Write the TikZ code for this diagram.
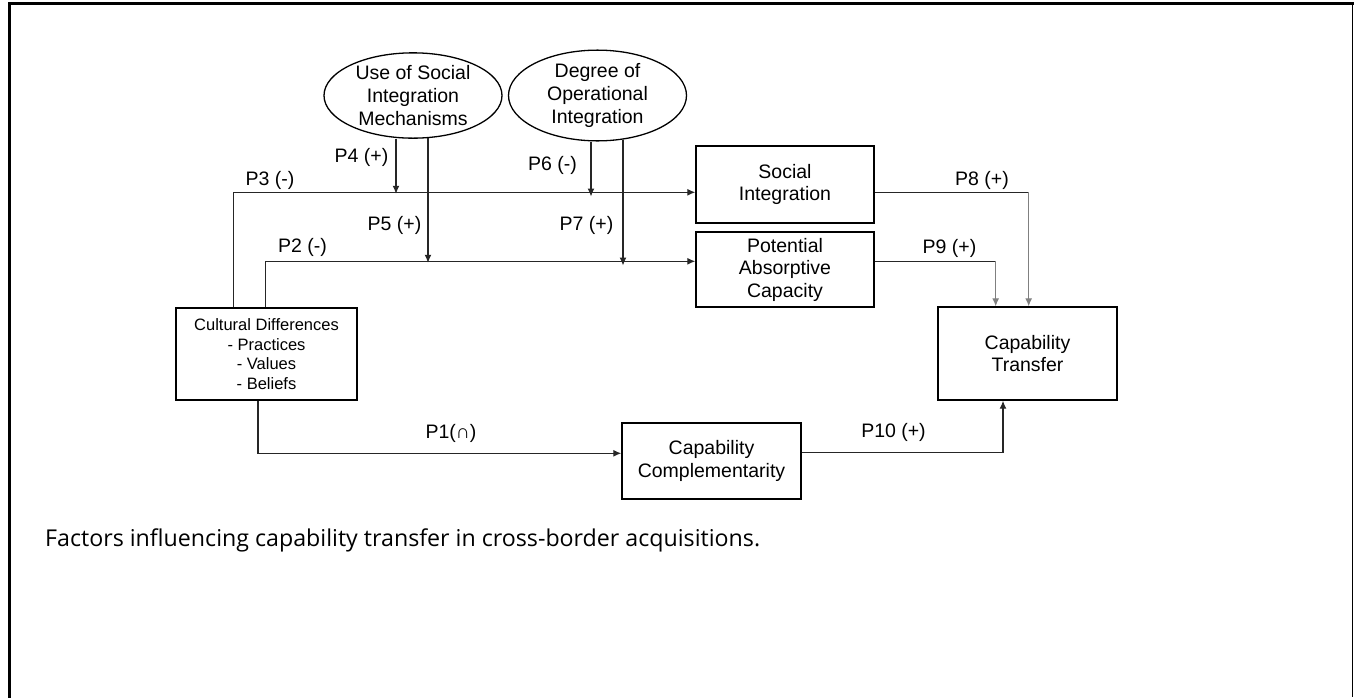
\documentclass[tikz,border=0pt]{standalone}
\usepackage{fontspec}
\setmainfont{Liberation Sans}
\newfontfamily\capfont{Open Sans}
\usetikzlibrary{arrows.meta,shapes.geometric,calc}
\newcommand\setfs[2]{\fontsize{#1}{#2}\selectfont}
\tikzset{
  box/.style={draw, rectangle, line width=1.4pt, inner sep=0pt, align=center,
              font=\setfs{19.5}{22.5}},
  oval/.style={draw, ellipse, line width=1.3pt, inner sep=0pt, align=center,
               minimum width=178pt, minimum height=85pt, font=\setfs{19.5}{23}},
  conn/.style={line width=1.25pt, black!85},
  arr/.style={conn, -{Latex[length=8pt,width=7pt]}},
  grayarr/.style={arr, black!50},
  lbl/.style={inner sep=0pt, font=\setfs{19.5}{22}},
  frame/.style={line cap=rect}
}
\begin{document}
\begin{tikzpicture}[x=1pt, y=-1pt]
  \useasboundingbox (0,0) rectangle (1354,697);

  % page frame: heavy left and top rules, thin right rule
  \draw[frame, line width=3pt] (9.5,697) -- (9.5,3.3) -- (1352.5,3.3);
  \draw[line width=1.3pt] (1352.6,3.3) -- (1352.6,697);

  % moderators
  \node[oval] (e1) at (413,95.5) {Use of Social\\Integration\\Mechanisms};
  \node[oval] (e2) at (597.5,95.5) {Degree of\\Operational\\Integration};

  % constructs
  \node[box, minimum width=178pt, minimum height=77pt] (si) at (785,184.5) {Social\\Integration};
  \node[box, minimum width=178pt, minimum height=75pt] (pac) at (785,269.5) {Potential\\Absorptive\\Capacity};
  \node[box, minimum width=181pt, minimum height=92pt, font=\setfs{16.5}{19.5}] (cd) at (266.5,354)
    {Cultural Differences\\- Practices\\- Values\\- Beliefs};
  \node[box, minimum width=179pt, minimum height=76pt] (cc) at (711.5,461) {Capability\\Complementarity};
  \node[box, minimum width=179pt, minimum height=93pt] (ct) at (1027.5,353.5) {Capability\\Transfer};

  % routing points
  \coordinate (p3) at ($(si.north west)+(0,47)$);
  \coordinate (p2) at ($(pac.north west)+(0,30)$);
  \coordinate (p8) at ($(si.north east)+(154,47)$);
  \coordinate (p9) at ($(pac.north east)+(121,30)$);

  % main paths from cultural differences
  \draw[arr] ($(cd.north west)+(58,0)$) |- (p3);
  \draw[arr] ($(cd.north west)+(90,0)$) |- (p2);
  \draw[arr] ($(cd.south)+(-8.5,0)$) |- ($(cc.north west)+(0,31)$);

  % moderating effects
  \draw[arr] ($(e1.south)+(-17,0)$) -- ($(e1.south)+(-17,55)$);
  \draw[arr] ($(e1.south)+(15,-0.5)$) -- ($(e1.south)+(15,124)$);
  \draw[arr] ($(e2.south)+(-6.5,0)$) -- ($(e2.south)+(-6.5,55)$);
  \draw[arr] ($(e2.south)+(25.5,-1.5)$) -- ($(e2.south)+(25.5,124)$);

  % paths into capability transfer
  \draw[conn] ($(si.north east)+(0,47)$) -- (p8);
  \draw[grayarr] (p8) -- (p8 |- ct.north);
  \draw[conn] ($(pac.north east)+(0,30)$) -- (p9);
  \draw[grayarr] (p9) -- (p9 |- ct.north);
  \draw[arr] ($(cc.north east)+(0,30)$) -| ($(ct.south)+(-24.5,0)$);

  % proposition labels
  \node[lbl] (l3) at (270,180) {P3 (-)};
  \node[lbl] (l4) at (361.5,157) {P4 (+)};
  \node[lbl] (l6) at (552.5,165) {P6 (-)};
  \node[lbl] (l5) at (394.5,225) {P5 (+)};
  \node[lbl] (l7) at (586.5,225) {P7 (+)};
  \node[lbl] (l2) at (302.5,247) {P2 (-)};
  \node[lbl] (l8) at (982,180) {P8 (+)};
  \node[lbl] (l9) at (949.5,248) {P9 (+)};
  \node[lbl] (l1) at (451,433) {P1(∩)};
  \node[lbl] (l10) at (893.5,432) {P10 (+)};

  % caption
  \node[anchor=west, inner sep=0pt, font=\capfont\setfs{23.2}{26}] (cap) at (45,540)
    {Factors influencing capability transfer in cross-border acquisitions.};
\end{tikzpicture}
\end{document}
